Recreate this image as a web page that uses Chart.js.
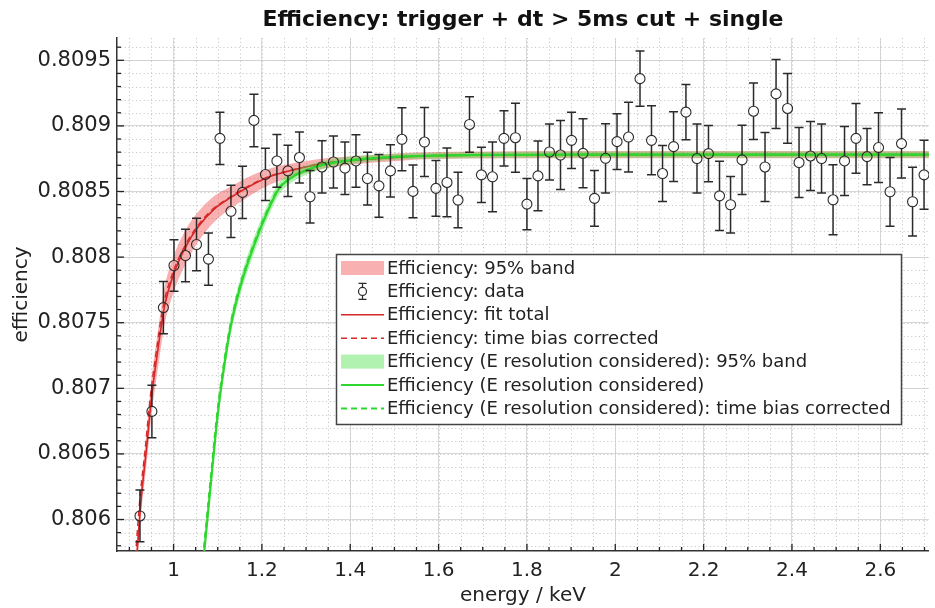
<!DOCTYPE html>
<html><head><meta charset="utf-8">
<script src="https://cdn.jsdelivr.net/npm/chart.js@4/dist/chart.umd.min.js"></script>
<style>html,body{margin:0;padding:0;background:#fff}#wrap{width:935px;height:608px;position:relative}</style>
</head><body><div id="wrap"><canvas id="c" width="935" height="608"></canvas></div>
<script>
// ---- data ----
const energy = [0.924,0.951,0.977,1.001,1.027,1.052,1.079,1.105,1.130,1.156,
1.182,1.208,1.234,1.259,1.285,1.309,1.336,1.362,1.388,1.413,
1.439,1.465,1.491,1.517,1.542,1.568,1.594,1.619,1.644,1.670,
1.697,1.722,1.748,1.774,1.800,1.825,1.851,1.876,1.901,1.927,
1.953,1.978,2.004,2.030,2.056,2.082,2.107,2.132,2.160,2.185,
2.211,2.236,2.261,2.287,2.313,2.339,2.364,2.390,2.416,2.442,
2.467,2.493,2.519,2.545,2.570,2.596,2.622,2.648,2.673,2.699];
const effData = [0.806027,0.806824,0.807615,0.807936,0.808012,0.808096,0.807985,0.808905,0.808349,0.808493,
0.809042,0.808630,0.808733,0.808657,0.808759,0.808460,0.808687,0.808725,0.808678,0.808733,
0.808599,0.808543,0.808657,0.808898,0.808501,0.808877,0.808524,0.808569,0.808435,0.809011,
0.808627,0.808612,0.808905,0.808910,0.808404,0.808619,0.808801,0.808778,0.808890,0.808791,
0.808448,0.808753,0.808880,0.808915,0.809360,0.808890,0.808637,0.808842,0.809105,0.808751,
0.808789,0.808467,0.808399,0.808741,0.809112,0.808687,0.809244,0.809133,0.808721,0.808771,
0.808751,0.808437,0.808733,0.808905,0.808766,0.808835,0.808498,0.808865,0.808422,0.808627];
const effErr = [0.000197,0.000200,0.000200,0.000197,0.000200,0.000200,0.000199,0.000199,0.000199,0.000199,
0.000200,0.000199,0.000201,0.000196,0.000195,0.000200,0.000199,0.000199,0.000200,0.000200,
0.000201,0.000240,0.000199,0.000240,0.000201,0.000263,0.000212,0.000262,0.000211,0.000212,
0.000211,0.000266,0.000211,0.000263,0.000196,0.000266,0.000214,0.000263,0.000215,0.000263,
0.000212,0.000264,0.000212,0.000266,0.000211,0.000263,0.000214,0.000266,0.000211,0.000263,
0.000215,0.000264,0.000215,0.000264,0.000215,0.000263,0.000263,0.000266,0.000266,0.000263,
0.000263,0.000266,0.000263,0.000266,0.000215,0.000266,0.000262,0.000263,0.000262,0.000263];

// fit total (red)
const fitE     = [0.912,0.918,0.927,0.939,0.950,0.965,0.980,1.002,1.029,1.055,1.092,1.130,1.167,1.220,1.259,1.343,1.418,1.492,1.553,1.700,2.000,2.720];
const fitTotal = [0.805493,0.805773,0.806166,0.806545,0.806924,0.807304,0.807632,0.807886,0.808088,0.808227,0.808366,0.808455,0.808531,0.808616,0.808654,0.808715,0.808740,0.808758,0.808770,0.808778,0.808781,0.808781];
const fitUpper = [0.805569,0.805864,0.806272,0.806666,0.807061,0.807448,0.807776,0.808023,0.808217,0.808341,0.808465,0.808538,0.808607,0.808677,0.808707,0.808753,0.808770,0.808788,0.808797,0.808805,0.808808,0.808808];
const fitLower = [0.805417,0.805682,0.806060,0.806424,0.806787,0.807160,0.807488,0.807749,0.807959,0.808113,0.808267,0.808372,0.808455,0.808555,0.808601,0.808677,0.808710,0.808728,0.808743,0.808751,0.808754,0.808754];
// time bias corrected (red dashed)
const corrE    = [0.909,0.915,0.924,0.936,0.947,0.962,0.977,0.999,1.026,1.052,1.089,1.127,1.164,1.217,1.256,1.340,1.415,1.489,1.550,1.697,1.997,2.720];
const corrEff  = [0.805493,0.805773,0.806166,0.806545,0.806924,0.807304,0.807632,0.807886,0.808088,0.808227,0.808366,0.808455,0.808531,0.808616,0.808654,0.808715,0.808740,0.808758,0.808770,0.808778,0.808781,0.808781];

// E resolution considered (green)
const resE     = [1.064,1.070,1.085,1.100,1.115,1.130,1.152,1.182,1.212,1.238,1.267,1.306,1.343,1.418,1.492,1.553,1.700,2.000,2.720];
const resEff   = [0.805557,0.805773,0.806292,0.806798,0.807177,0.807481,0.807784,0.808088,0.808341,0.808518,0.808606,0.808669,0.808707,0.808745,0.808763,0.808770,0.808779,0.808781,0.808781];
const resUpper = [0.805603,0.805819,0.806345,0.806859,0.807238,0.807542,0.807845,0.808149,0.808394,0.808564,0.808644,0.808703,0.808737,0.808772,0.808786,0.808793,0.808802,0.808804,0.808804];
const resLower = [0.805511,0.805727,0.806239,0.806737,0.807116,0.807420,0.807723,0.808027,0.808288,0.808472,0.808568,0.808635,0.808677,0.808718,0.808740,0.808747,0.808756,0.808758,0.808758];
const resCorrE = [1.062,1.068,1.083,1.098,1.113,1.128,1.150,1.180,1.210,1.236,1.265,1.304,1.341,1.416,1.490,1.551,1.698,1.998,2.720];
const resCorrEff = [0.805557,0.805773,0.806292,0.806798,0.807177,0.807481,0.807784,0.808088,0.808341,0.808518,0.808606,0.808669,0.808707,0.808745,0.808763,0.808770,0.808779,0.808781,0.808781];

const xTicks = [1.0,1.2,1.4,1.6,1.8,2.0,2.2,2.4,2.6];
const xTickLabels = ['1','1.2','1.4','1.6','1.8','2','2.2','2.4','2.6'];
const yTicks = [0.806,0.8065,0.807,0.8075,0.808,0.8085,0.809,0.8095];
const yTickLabels = ['0.806','0.8065','0.807','0.8075','0.808','0.8085','0.809','0.8095'];
const legendLabels = ['Efficiency: 95% band','Efficiency: data','Efficiency: fit total','Efficiency: time bias corrected',
 'Efficiency (E resolution considered): 95% band','Efficiency (E resolution considered)','Efficiency (E resolution considered): time bias corrected'];
const titleText = 'Efficiency: trigger + dt > 5ms cut + single';
const xTitle = 'energy / keV';
const yTitle = 'efficiency';

// ---- styles ----
const FONT = 'DejaVu Sans';
const RED = 'rgb(214,40,40)';
const RED_BAND = 'rgba(240,80,80,0.45)';
const GREEN = 'rgb(45,215,45)';
const GREEN_BAND = 'rgba(70,225,70,0.42)';
const INK = '#2a2a2a';

const pts = (xs, ys) => xs.map((x, i) => ({x, y: ys[i]}));

function lineDs(label, xs, ys, color, dash, width, order) {
  return {label, data: pts(xs, ys), borderColor: color, borderWidth: width, borderDash: dash,
    pointRadius: 0, fill: false, cubicInterpolationMode: 'monotone', order};
}

const datasets = [
  {label:'rb_up', data: pts(fitE, fitUpper), borderWidth:0, pointRadius:0, backgroundColor: RED_BAND,
   fill: '+1', cubicInterpolationMode:'monotone', order: 9},
  {label:'rb_lo', data: pts(fitE, fitLower), borderWidth:0, pointRadius:0, fill:false, cubicInterpolationMode:'monotone', order: 9},
  {label:'gb_up', data: pts(resE, resUpper), borderWidth:0, pointRadius:0, backgroundColor: GREEN_BAND,
   fill: '+1', cubicInterpolationMode:'monotone', order: 6},
  {label:'gb_lo', data: pts(resE, resLower), borderWidth:0, pointRadius:0, fill:false, cubicInterpolationMode:'monotone', order: 6},
  lineDs('fit', fitE, fitTotal, RED, [], 1.6, 8),
  lineDs('corr', corrE, corrEff, RED, [6,4], 1.4, 7),
  lineDs('res', resE, resEff, GREEN, [], 2.2, 5),
  lineDs('rescorr', resCorrE, resCorrEff, GREEN, [6,4], 1.6, 4),
  {label:'data', data: pts(energy, effData), showLine:false, pointRadius:5, pointStyle:'circle',
   pointBorderColor: INK, pointBackgroundColor:'rgba(0,0,0,0)', pointBorderWidth:1.1, order: 0}
];

const decorPlugin = {
  id: 'decor',
  beforeDatasetsDraw(chart) {
    const {ctx, chartArea: a, scales: {x, y}} = chart;
    ctx.save();
    ctx.strokeStyle = '#c9c9c9';
    ctx.lineWidth = 1;
    ctx.setLineDash([1.2, 2.6]);
    for (let k = 18; k <= 54; k++) {
      const v = k * 0.05; if (v < x.min || v > x.max) continue;
      const px = Math.round(x.getPixelForValue(v)) + 0.5;
      ctx.beginPath(); ctx.moveTo(px, a.top); ctx.lineTo(px, a.bottom); ctx.stroke();
    }
    for (let k = 8057; k <= 8097; k++) {
      const v = k / 10000; if (v < y.min || v > y.max) continue;
      const py = Math.round(y.getPixelForValue(v)) + 0.5;
      ctx.beginPath(); ctx.moveTo(a.left, py); ctx.lineTo(a.right, py); ctx.stroke();
    }
    ctx.restore();
  },
  afterDatasetsDraw(chart) {
    const {ctx, chartArea: a, scales: {x, y}} = chart;
    ctx.save();
    ctx.beginPath(); ctx.rect(a.left, a.top, a.right - a.left, a.bottom - a.top); ctx.clip();
    ctx.strokeStyle = INK; ctx.lineWidth = 1.5;
    const r = 5, cap = 4.5;
    energy.forEach((e, i) => {
      const px = x.getPixelForValue(e);
      const pc = y.getPixelForValue(effData[i]);
      const pt = y.getPixelForValue(effData[i] + effErr[i]);
      const pb = y.getPixelForValue(effData[i] - effErr[i]);
      ctx.beginPath();
      ctx.moveTo(px, pt); ctx.lineTo(px, pc - r);
      ctx.moveTo(px, pc + r); ctx.lineTo(px, pb);
      ctx.moveTo(px - cap, pt); ctx.lineTo(px + cap, pt);
      ctx.moveTo(px - cap, pb); ctx.lineTo(px + cap, pb);
      ctx.stroke();
    });
    ctx.restore();
    ctx.save();
    ctx.strokeStyle = '#222'; ctx.lineWidth = 1.3;
    for (let k = 18; k <= 54; k++) {
      const v = k * 0.05; if (v < x.min || v > x.max) continue;
      const major = k % 4 === 0;
      const px = x.getPixelForValue(v);
      ctx.beginPath(); ctx.moveTo(px, a.bottom); ctx.lineTo(px, a.bottom - (major ? 7 : 4)); ctx.stroke();
    }
    for (let k = 8057; k <= 8097; k++) {
      const v = k / 10000; if (v < y.min || v > y.max) continue;
      const major = k % 5 === 0;
      const py = y.getPixelForValue(v);
      ctx.beginPath(); ctx.moveTo(a.left, py); ctx.lineTo(a.left + (major ? 7 : 4), py); ctx.stroke();
    }
    ctx.restore();
  },
  afterDraw(chart) {
    const {ctx} = chart;
    const L = 336, T = 254, W = 565, H = 170, rowH = 23.4, y0 = T + 14;
    ctx.save();
    ctx.fillStyle = '#fff'; ctx.fillRect(L, T, W, H);
    ctx.strokeStyle = '#444'; ctx.lineWidth = 1.5; ctx.strokeRect(L + 0.5, T + 0.5, W, H);
    ctx.font = '18px "' + FONT + '"'; ctx.textBaseline = 'middle'; ctx.textAlign = 'left';
    const sx0 = L + 5, sx1 = L + 48, tx = L + 51;
    legendLabels.forEach((lab, i) => {
      const yy = y0 + i * rowH;
      if (i === 0 || i === 4) {
        ctx.fillStyle = i === 0 ? RED_BAND : GREEN_BAND;
        ctx.fillRect(sx0, yy - 7, sx1 - sx0, 14);
      } else if (i === 1) {
        const cx = (sx0 + sx1) / 2;
        ctx.strokeStyle = INK; ctx.lineWidth = 1.2; ctx.setLineDash([]);
        ctx.beginPath();
        ctx.moveTo(cx, yy - 8); ctx.lineTo(cx, yy - 4); ctx.moveTo(cx, yy + 4); ctx.lineTo(cx, yy + 8);
        ctx.moveTo(cx - 4, yy - 8); ctx.lineTo(cx + 4, yy - 8);
        ctx.moveTo(cx - 4, yy + 8); ctx.lineTo(cx + 4, yy + 8);
        ctx.stroke();
        ctx.beginPath(); ctx.arc(cx, yy, 4, 0, Math.PI * 2); ctx.stroke();
      } else {
        const col = i < 4 ? RED : GREEN;
        ctx.strokeStyle = col; ctx.lineWidth = i < 4 ? 1.6 : 2;
        ctx.setLineDash((i === 3 || i === 6) ? [6, 4] : []);
        ctx.beginPath(); ctx.moveTo(sx0, yy); ctx.lineTo(sx1, yy); ctx.stroke();
        ctx.setLineDash([]);
      }
      ctx.fillStyle = '#222';
      ctx.fillText(lab, tx, yy + 1);
    });
    ctx.restore();
  }
};

new Chart(document.getElementById('c'), {
  type: 'line',
  data: { datasets },
  options: {
    responsive: false, animation: false, devicePixelRatio: 1,
    layout: { padding: 0 },
    plugins: {
      legend: { display: false }, tooltip: { enabled: false },
      title: { display: true, text: titleText, fullSize: false, color: '#111',
        font: { family: FONT, size: 22, weight: 'bold', lineHeight: 1.2 }, padding: { top: 7, bottom: 4.6 } }
    },
    scales: {
      x: { type: 'linear', min: 0.872, max: 2.71,
        afterFit: s => { s.height = 57; },
        afterBuildTicks: s => { s.ticks = xTicks.map(v => ({value: v})); },
        ticks: { callback: (v) => xTickLabels[xTicks.indexOf(v)], color: '#222', padding: 8, maxRotation: 0, autoSkip: false,
          font: { family: FONT, size: 20 } },
        grid: { color: '#d8d8d8', lineWidth: 1, drawTicks: false },
        border: { display: true, color: '#333', width: 1.5 },
        title: { display: true, text: xTitle, color: '#222', font: { family: FONT, size: 20 }, padding: { top: 0, bottom: 0 } }
      },
      y: { type: 'linear', min: 0.80576, max: 0.80967,
        afterFit: s => { s.width = 117; },
        afterBuildTicks: s => { s.ticks = yTicks.map(v => ({value: v})); },
        ticks: { callback: (v) => yTickLabels[yTicks.indexOf(v)], color: '#222', padding: 6, autoSkip: false,
          font: { family: FONT, size: 21 } },
        grid: { color: '#d8d8d8', lineWidth: 1, drawTicks: false },
        border: { display: true, color: '#333', width: 1.5 },
        title: { display: true, text: yTitle, color: '#222', font: { family: FONT, size: 20 }, padding: { top: 10, bottom: 0 } }
      }
    }
  },
  plugins: [decorPlugin]
});
</script>
</body></html>
